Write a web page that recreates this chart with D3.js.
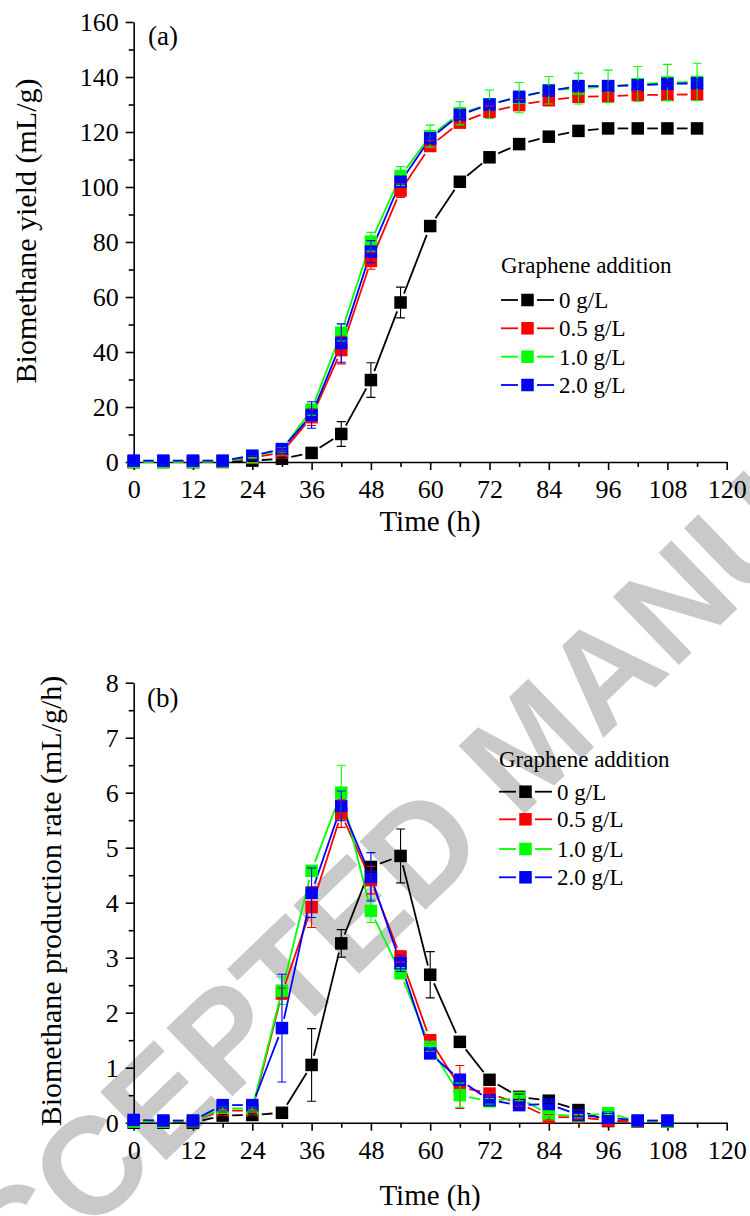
<!DOCTYPE html>
<html>
<head>
<meta charset="utf-8">
<script src="https://cdn.jsdelivr.net/npm/d3@7"></script>
<style>
body{margin:0;background:#fff;}
svg text{font-family:"Liberation Serif","Times New Roman",serif;fill:#000;}
</style>
</head>
<body>
<svg id="fig" width="750" height="1216"></svg>
<script>
// ---- data ----
var series_names = ["0 g/L", "0.5 g/L", "1.0 g/L", "2.0 g/L"];
var series_colors = ["#000000", "#ff0000", "#00ff00", "#0000ff"];

// (a) cumulative biomethane yield, mL/g
var time_a = [0, 6, 12, 18, 24, 30, 36, 42, 48, 54, 60, 66, 72, 78, 84, 90, 96, 102, 108, 114];
var yield_0   = [0, 0, 0, 0, 0.5, 1.2, 3.3, 10.2, 29.8, 58, 85.8, 101.9, 110.8, 115.6, 118.3, 120.4, 121.3, 121.3, 121.3, 121.3];
var yield_05  = [0, 0, 0, 0.2, 1.5, 3.5, 16.3, 40.7, 73.1, 98.7, 114.9, 123.4, 127.4, 129.8, 131.6, 132.8, 133, 133.5, 133.5, 133.7];
var yield_10  = [0, 0, 0, 0.2, 1.8, 4.5, 19, 47, 80.1, 104, 118.5, 126.8, 130.1, 132.5, 135.2, 135.8, 136.6, 137.4, 138, 138.2];
var yield_20  = [0.5, 0.5, 0.5, 0.5, 2.3, 4.7, 17.1, 43.3, 76.5, 101.9, 117.7, 126.2, 130, 132.8, 135, 136.7, 136.7, 137, 137.5, 137.7];
var yield_err_0  = [0, 0, 0, 0, 0.3, 0.5, 1, 4.5, 6.3, 5.6, 1.5, 0.8, 0.8, 0.8, 0.8, 0.8, 0.8, 0.8, 0.8, 0.8];
var yield_err_05 = [0, 0, 0, 0, 0.3, 0.8, 3, 5, 3, 2.5, 2, 1.5, 2, 2, 2, 1.5, 1.5, 1.5, 1.5, 1.5];
var yield_err_10 = [0, 0, 0, 0, 0.3, 0.8, 2, 3, 3.4, 3.4, 4, 4.2, 5.2, 5.5, 5, 5.6, 5.9, 6.4, 6.6, 6.8];
var yield_err_20 = [0, 0, 0, 0, 0.3, 0.8, 4.8, 7, 4, 2, 2, 1.5, 1.5, 1.5, 1.5, 1.5, 1.5, 1.5, 1.5, 1.5];

// (b) biomethane production rate, mL/g/h
var time_b = [0, 6, 12, 18, 24, 30, 36, 42, 48, 54, 60, 66, 72, 78, 84, 90, 96, 102, 108];
var rate_0   = [0, 0, 0, 0.13, 0.14, 0.18, 1.05, 3.26, 4.65, 4.85, 2.69, 1.47, 0.78, 0.47, 0.4, 0.23, 0.03, 0.02, 0.02];
var rate_05  = [0.02, 0.02, 0.03, 0.22, 0.22, 2.35, 3.92, 5.62, 4.41, 3.02, 1.5, 0.65, 0.53, 0.35, 0.1, 0.1, 0.04, 0.02, 0.02];
var rate_10  = [0.02, 0.02, 0.03, 0.26, 0.26, 2.4, 4.58, 6.0, 3.85, 2.72, 1.38, 0.5, 0.39, 0.45, 0.15, 0.12, 0.17, 0.03, 0.02];
var rate_20  = [0.05, 0.04, 0.04, 0.32, 0.32, 1.72, 4.18, 5.76, 4.47, 2.9, 1.26, 0.78, 0.41, 0.32, 0.34, 0.14, 0.09, 0.04, 0.04];
var rate_err_0  = [0, 0, 0, 0.02, 0.02, 0.03, 0.66, 0.25, 0.1, 0.49, 0.42, 0.05, 0.05, 0.05, 0.05, 0.03, 0, 0, 0];
var rate_err_05 = [0, 0, 0, 0.03, 0.03, 0.1, 0.37, 0.25, 0.25, 0.1, 0.05, 0.39, 0.05, 0.05, 0.05, 0.03, 0, 0, 0];
var rate_err_10 = [0, 0, 0, 0.03, 0.03, 0.25, 0.05, 0.5, 0.21, 0.1, 0.08, 0.22, 0.05, 0.05, 0.05, 0.03, 0.02, 0, 0];
var rate_err_20 = [0, 0, 0, 0.03, 0.03, 0.98, 0.45, 0.27, 0.44, 0.15, 0.08, 0.1, 0.05, 0.05, 0.05, 0.03, 0.02, 0, 0];

// ticks
var x_ticks = [0, 12, 24, 36, 48, 60, 72, 84, 96, 108, 120];
var x_minor = [6, 18, 30, 42, 54, 66, 78, 90, 102, 114];
var ya_ticks = [0, 20, 40, 60, 80, 100, 120, 140, 160];
var ya_minor = [10, 30, 50, 70, 90, 110, 130, 150];
var yb_ticks = [0, 1, 2, 3, 4, 5, 6, 7, 8];
var yb_minor = [0.5, 1.5, 2.5, 3.5, 4.5, 5.5, 6.5, 7.5];

var svg = d3.select("#fig");

// watermark, sits behind the plots (centred on the "M")
var WM = 138;
var wm = svg.append("g").attr("transform", "translate(525,745) rotate(-44)");
wm.append("text").attr("x", -0.4165*WM - 0.278*WM).attr("y", 0.358*WM).attr("text-anchor", "end")
	.style("fill", "#c9c9c9").style("font-family", "'Liberation Sans',Arial,sans-serif")
	.style("font-weight", "bold").style("font-size", WM + "px").text("ACCEPTED");
wm.append("text").attr("x", -0.4165*WM).attr("y", 0.358*WM).attr("text-anchor", "start")
	.style("fill", "#c9c9c9").style("font-family", "'Liberation Sans',Arial,sans-serif")
	.style("font-weight", "bold").style("font-size", WM + "px").text("MANUSCRIPT");

var MARK = 12.5, GAP = 9.5, CAP = 9;

// line pieces between markers, leaving a gap round each symbol
function gapSegments(pts){
	var segs = [];
	for(var i = 1; i < pts.length; i++){
		var dx = pts[i][0] - pts[i-1][0], dy = pts[i][1] - pts[i-1][1];
		var L = Math.sqrt(dx*dx + dy*dy);
		if(L <= 2*GAP + 1) continue;
		var ux = dx/L, uy = dy/L;
		segs.push([pts[i-1][0] + ux*GAP, pts[i-1][1] + uy*GAP, pts[i][0] - ux*GAP, pts[i][1] - uy*GAP]);
	}
	return segs;
}

function drawPanel(p){
	var x = d3.scaleLinear().domain([0, 120]).range([133.7, 726.7]),
		y = d3.scaleLinear().domain(p.ydomain).range(p.yrange);
	var g = svg.append("g");

	// axes: major then minor ticks
	g.append("g").attr("transform", "translate(0," + p.yrange[0] + ")")
		.call(d3.axisBottom(x).tickValues(x_ticks).tickSize(8).tickPadding(10).tickSizeOuter(0));
	g.append("g").attr("transform", "translate(0," + p.yrange[0] + ")")
		.call(d3.axisBottom(x).tickValues(x_minor).tickSize(5).tickFormat("")).select(".domain").remove();
	g.append("g").attr("transform", "translate(133.7,0)")
		.call(d3.axisLeft(y).tickValues(p.yticks).tickSize(8).tickPadding(7).tickSizeOuter(0));
	g.append("g").attr("transform", "translate(133.7,0)")
		.call(d3.axisLeft(y).tickValues(p.yminor).tickSize(5).tickFormat("")).select(".domain").remove();
	g.selectAll(".domain, .tick line").attr("stroke", "#000").attr("stroke-width", 1.6);
	g.selectAll(".tick text").attr("font-family", null).attr("font-size", null)
		.style("font-size", "26px").attr("fill", "#000");

	g.append("text").attr("x", 430).attr("y", p.xtitleY).attr("text-anchor", "middle")
		.style("font-size", "29px").text("Time (h)");
	g.append("text").attr("transform", "translate(" + p.ytitleX + "," + p.ytitleY + ") rotate(-90)")
		.attr("text-anchor", "middle").style("font-size", "30px").text(p.ytitle);
	g.append("text").attr("x", p.labelX).attr("y", p.labelY).style("font-size", "27px").text(p.label);

	var pts = p.series.map(function(s){
		return s.map(function(v, i){ return [x(p.time[i]), y(v)]; });
	});

	// lines
	pts.forEach(function(pp, k){
		g.append("g").selectAll("line").data(gapSegments(pp)).enter().append("line")
			.attr("x1", function(d){return d[0];}).attr("y1", function(d){return d[1];})
			.attr("x2", function(d){return d[2];}).attr("y2", function(d){return d[3];})
			.attr("stroke", series_colors[k]).attr("stroke-width", 1.8);
	});
	// markers
	pts.forEach(function(pp, k){
		g.append("g").selectAll("rect").data(pp).enter().append("rect")
			.attr("x", function(d){return d[0] - MARK/2;}).attr("y", function(d){return d[1] - MARK/2;})
			.attr("width", MARK).attr("height", MARK).attr("fill", series_colors[k]);
	});
	// error bars on top
	p.series.forEach(function(s, k){
		var eb = g.append("g").attr("stroke", series_colors[k]).attr("stroke-width", 1.1).attr("fill", "none");
		s.forEach(function(v, i){
			var e = p.errors[k][i];
			if(!e) return;
			var cx = x(p.time[i]), t = y(v + e), b = y(v - e);
			eb.append("path").attr("d", "M" + cx + "," + t + "V" + b +
				"M" + (cx - CAP/2) + "," + t + "H" + (cx + CAP/2) +
				"M" + (cx - CAP/2) + "," + b + "H" + (cx + CAP/2));
		});
	});

	// legend
	var lg = g.append("g");
	lg.append("text").attr("x", p.legX).attr("y", p.legTitleY).style("font-size", "23px").text("Graphene addition");
	series_names.forEach(function(n, k){
		var cy = p.legRows[k];
		lg.append("line").attr("x1", p.legX).attr("x2", p.legX + 17).attr("y1", cy).attr("y2", cy)
			.attr("stroke", series_colors[k]).attr("stroke-width", 1.8);
		lg.append("line").attr("x1", p.legX + 36).attr("x2", p.legX + 53).attr("y1", cy).attr("y2", cy)
			.attr("stroke", series_colors[k]).attr("stroke-width", 1.8);
		lg.append("rect").attr("x", p.legX + 26.5 - MARK/2).attr("y", cy - MARK/2)
			.attr("width", MARK).attr("height", MARK).attr("fill", series_colors[k]);
		lg.append("text").attr("x", p.legX + 58).attr("y", cy + 8).style("font-size", "23px").text(n);
	});
}

drawPanel({
	time: time_a, series: [yield_0, yield_05, yield_10, yield_20],
	errors: [yield_err_0, yield_err_05, yield_err_10, yield_err_20],
	ydomain: [0, 160], yrange: [462, 22], yticks: ya_ticks, yminor: ya_minor,
	ytitle: "Biomethane yield (mL/g)", ytitleX: 35.5, ytitleY: 231, xtitleY: 531,
	label: "(a)", labelX: 148, labelY: 45,
	legX: 501, legTitleY: 273, legRows: [300, 328.3, 356.7, 385]
});

drawPanel({
	time: time_b, series: [rate_0, rate_05, rate_10, rate_20],
	errors: [rate_err_0, rate_err_05, rate_err_10, rate_err_20],
	ydomain: [0, 8], yrange: [1122.7, 682.7], yticks: yb_ticks, yminor: yb_minor,
	ytitle: "Biomethane production rate (mL/g/h)", ytitleX: 60.5, ytitleY: 901, xtitleY: 1205,
	label: "(b)", labelX: 147, labelY: 707,
	legX: 499, legTitleY: 767, legRows: [791.7, 819.3, 849, 877.3]
});
</script>
</body>
</html>
